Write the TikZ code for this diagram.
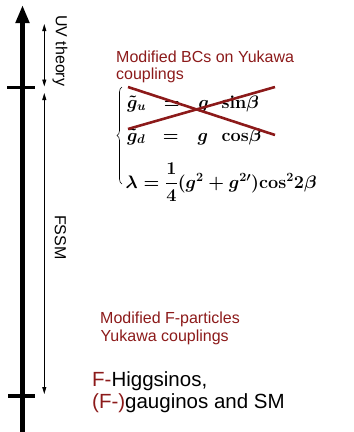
\RequirePackage{fix-cm}
\documentclass[tikz,border=0pt]{standalone}
\usepackage{amsmath}
\usepackage{graphicx}
\usepackage[no-math]{fontspec}
\newfontfamily\lsans{Liberation Sans}
\usetikzlibrary{arrows.meta,decorations.pathreplacing}
\definecolor{dred}{RGB}{140,26,26}
\newcommand{\eqbox}[1]{\scalebox{1.045}{\fontsize{17.28}{21}\selectfont\boldmath #1}}
\begin{document}
\begin{tikzpicture}[x=1pt,y=-1pt,
  redtxt/.style={text=dred, font=\lsans\fontsize{16}{19}\selectfont, anchor=base west, inner sep=0pt},
  blktxt/.style={font=\lsans\fontsize{20.5}{24}\selectfont, anchor=base west, inner sep=0pt},
  sidetxt/.style={font=\lsans\fontsize{16}{19}\selectfont, anchor=base west, inner sep=0pt, rotate=-90},
  eqn/.style={anchor=base west, inner sep=0pt},
  axis/.style={line width=5pt, -{Triangle[length=18pt,width=13pt]}},
  tick/.style={line width=3.5pt},
  span/.style={line width=0.8pt, {Triangle[length=7pt,width=4pt]}-{Triangle[length=7pt,width=4pt]}},
  cross/.style={dred, line width=2.6pt}]
\useasboundingbox (0,0) rectangle (354,432);
% axis
\coordinate (axb) at (22.5,432);
\coordinate (axt) at (22.5,5);
\draw[axis] (axb) -- (axt);
\coordinate (t1a) at (7,87.5); \coordinate (t1b) at (35,87.5);
\coordinate (t2a) at (8,396); \coordinate (t2b) at (35,396);
\draw[tick] (t1a) -- (t1b);
\draw[tick] (t2a) -- (t2b);
% spans
\coordinate (s1a) at (44.3,24); \coordinate (s1b) at (44.3,86.5);
\coordinate (s2a) at (44.3,93); \coordinate (s2b) at (44.3,394);
\draw[span] (s1a) -- (s1b);
\draw[span] (s2a) -- (s2b);
\node[sidetxt] (uv) at (56,15) {UV theory};
\node[sidetxt] (fssm) at (55,215) {FSSM};
% top red text
\node[redtxt] (bc1) at (116,62.5) {Modified BCs on Yukawa};
\node[redtxt] (bc2) at (116,79.3) {couplings};
% equations
\node[eqn] (e1) at (127,108) {\eqbox{$\tilde{g}_u\hspace{17pt}{=}\hspace{18pt}{g}\hspace{12pt}\mathrm{sin}\beta$}};
\node[eqn] (e2) at (127,141) {\eqbox{$\tilde{g}_d\hspace{17pt}{=}\hspace{18pt}{g}\hspace{13pt}\mathrm{cos}\beta$}};
\node[eqn] (e3) at (125.5,188) {\eqbox{$\lambda=\dfrac{1}{4}(g^2+g^{2\prime})\mathrm{cos}^2 2\beta$}};
\coordinate (bra) at (122,184);
\coordinate (brb) at (122,87);
\draw[line width=0.6pt, decorate, decoration={brace, amplitude=5pt}] (bra) -- (brb);
\coordinate (c1a) at (128,87); \coordinate (c1b) at (275,135);
\coordinate (c2a) at (128,129); \coordinate (c2b) at (275,87);
\draw[cross] (c1a) -- (c1b);
\draw[cross] (c2a) -- (c2b);
% bottom texts
\node[redtxt] (fp1) at (100,323.3) {Modified F-particles};
\node[redtxt] (fp2) at (100.5,341) {Yukawa couplings};
\node[blktxt] (h1) at (92,386) {\textcolor{dred}{F-}Higgsinos,};
\node[blktxt] (h2) at (92,408.3) {\textcolor{dred}{(F-)}gauginos and SM};
\end{tikzpicture}
\end{document}
